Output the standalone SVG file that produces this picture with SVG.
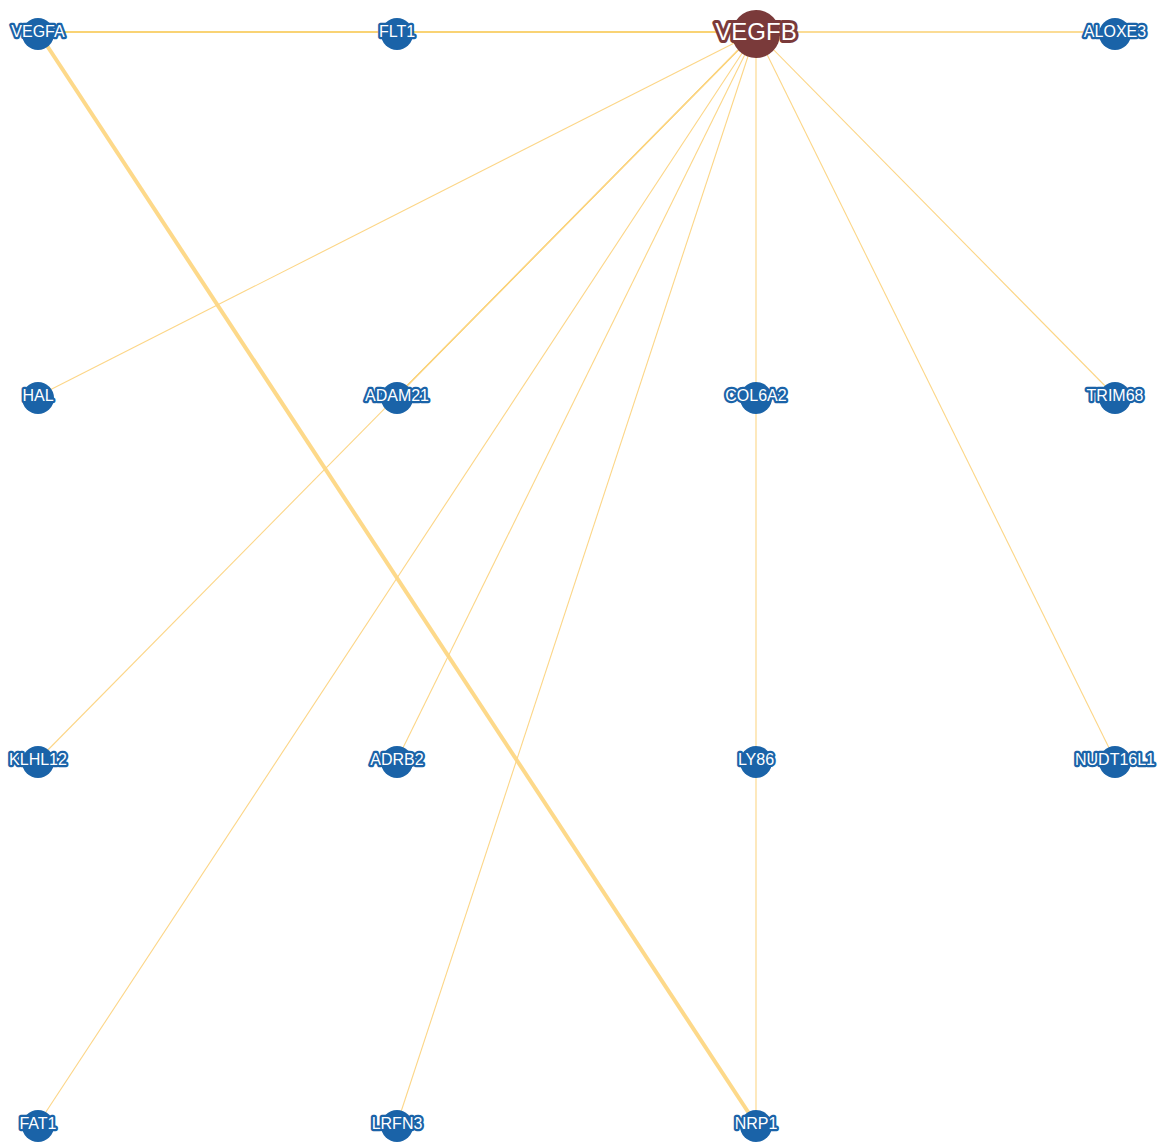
<svg xmlns="http://www.w3.org/2000/svg" width="1161" height="1142" viewBox="0 0 1161 1142">
<style>
.e{stroke:#fcd687;stroke-width:1.1;fill:none}
.e2{stroke:#f7c446;stroke-width:1.4;fill:none}
.e3{stroke:#fad072;stroke-width:1.3;fill:none}
.thick{stroke:#fdd98a;stroke-width:4;fill:none}
.n circle{fill:#1a63a8}
.n text{font-family:"Liberation Sans",Arial,sans-serif;font-size:16px;fill:#ffffff;stroke:#1a63a8;stroke-width:4.5;stroke-linejoin:round;paint-order:stroke;text-anchor:middle;dominant-baseline:central}
.hub circle{fill:#7a3a3a}
.hub text{font-family:"Liberation Sans",Arial,sans-serif;font-size:24px;fill:#ffffff;stroke:#7a3a3a;stroke-width:6;stroke-linejoin:round;paint-order:stroke;text-anchor:middle;dominant-baseline:central}
</style>
<rect width="1161" height="1142" fill="#ffffff"/>
<g id="edges">
<line class="e2" x1="38" y1="32" x2="397" y2="32"/>
<line class="e2" x1="397" y1="32" x2="756" y2="32"/>
<line class="e3" x1="756" y1="32" x2="1115" y2="32"/>
<line class="thick" x1="38" y1="32" x2="756" y2="1124"/>
<line class="e" x1="756" y1="32" x2="38" y2="396"/>
<line class="e2" x1="756" y1="32" x2="397" y2="396"/>
<line class="e" x1="756" y1="32" x2="38" y2="760"/>
<line class="e" x1="756" y1="32" x2="756" y2="396"/>
<line class="e" x1="756" y1="396" x2="756" y2="760"/>
<line class="e" x1="756" y1="760" x2="756" y2="1124"/>
<line class="e" x1="756" y1="32" x2="1115" y2="396"/>
<line class="e" x1="756" y1="32" x2="397" y2="760"/>
<line class="e" x1="756" y1="32" x2="1115" y2="760"/>
<line class="e" x1="756" y1="32" x2="38" y2="1124"/>
<line class="e" x1="756" y1="32" x2="397" y2="1124"/>
</g>
<g id="VEGFA" class="n"><circle cx="38" cy="34" r="16"/><text x="38" y="31.5">VEGFA</text></g>
<g id="FLT1" class="n"><circle cx="397" cy="34" r="16"/><text x="397" y="31.5">FLT1</text></g>
<g id="ALOXE3" class="n"><circle cx="1115" cy="34" r="16"/><text x="1115" y="31.5">ALOXE3</text></g>
<g id="HAL" class="n"><circle cx="38" cy="398" r="16"/><text x="38" y="395.5">HAL</text></g>
<g id="ADAM21" class="n"><circle cx="397" cy="398" r="16"/><text x="397" y="395.5">ADAM21</text></g>
<g id="COL6A2" class="n"><circle cx="756" cy="398" r="16"/><text x="756" y="395.5">COL6A2</text></g>
<g id="TRIM68" class="n"><circle cx="1115" cy="398" r="16"/><text x="1115" y="395.5">TRIM68</text></g>
<g id="KLHL12" class="n"><circle cx="38" cy="762" r="16"/><text x="38" y="759.5">KLHL12</text></g>
<g id="ADRB2" class="n"><circle cx="397" cy="762" r="16"/><text x="397" y="759.5">ADRB2</text></g>
<g id="LY86" class="n"><circle cx="756" cy="762" r="16"/><text x="756" y="759.5">LY86</text></g>
<g id="NUDT16L1" class="n"><circle cx="1115" cy="762" r="16"/><text x="1115" y="759.5">NUDT16L1</text></g>
<g id="FAT1" class="n"><circle cx="38" cy="1126" r="16"/><text x="38" y="1123.5">FAT1</text></g>
<g id="LRFN3" class="n"><circle cx="397" cy="1126" r="16"/><text x="397" y="1123.5">LRFN3</text></g>
<g id="NRP1" class="n"><circle cx="756" cy="1126" r="16"/><text x="756" y="1123.5">NRP1</text></g>
<g id="VEGFB" class="hub"><circle cx="756" cy="34" r="24"/><text x="756" y="31.5">VEGFB</text></g>
</svg>
